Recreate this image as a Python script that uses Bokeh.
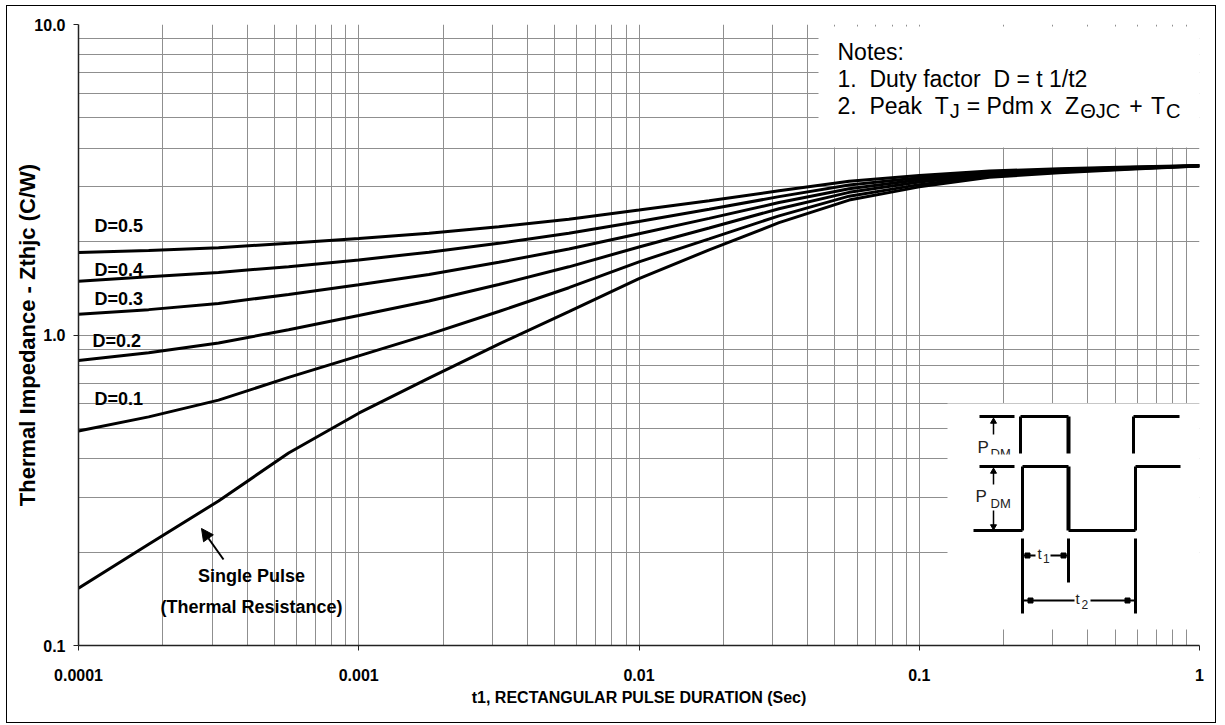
import math
from bokeh.plotting import figure
from bokeh.models import Range1d, FixedTicker, Arrow, NormalHead
from bokeh.core.properties import value
from bokeh.embed import file_html
from bokeh.resources import INLINE

# ---------------- data ----------------
t_sec = [1e-4, 1.78e-4, 3.16e-4, 5.62e-4, 1e-3, 1.78e-3, 3.16e-3, 5.62e-3,
         1e-2, 1.78e-2, 3.16e-2, 5.62e-2, 0.1, 0.178, 0.316, 0.562, 1.0]
z_single = [0.153, 0.212, 0.292, 0.417, 0.56, 0.726, 0.935, 1.19, 1.52, 1.88,
            2.30, 2.72, 3.00, 3.22, 3.33, 3.42, 3.50]
z_d01 = [0.491, 0.545, 0.617, 0.73, 0.857, 1.005, 1.19, 1.42, 1.72, 2.04,
         2.42, 2.80, 3.05, 3.25, 3.35, 3.43, 3.50]
z_d02 = [0.828, 0.876, 0.942, 1.04, 1.155, 1.287, 1.454, 1.658, 1.92, 2.21,
         2.55, 2.88, 3.11, 3.28, 3.37, 3.44, 3.51]
z_d03 = [1.166, 1.207, 1.264, 1.351, 1.451, 1.567, 1.714, 1.892, 2.12, 2.375,
         2.67, 2.96, 3.16, 3.31, 3.39, 3.45, 3.51]
z_d04 = [1.49, 1.54, 1.59, 1.66, 1.745, 1.848, 1.973, 2.126, 2.32, 2.54,
         2.79, 3.04, 3.21, 3.34, 3.41, 3.46, 3.51]
z_d05 = [1.844, 1.871, 1.911, 1.974, 2.045, 2.128, 2.233, 2.36, 2.525, 2.705,
         2.915, 3.125, 3.265, 3.375, 3.43, 3.475, 3.515]
series = [z_d05, z_d04, z_d03, z_d02, z_d01, z_single]
series_labels = ["D=0.5", "D=0.4", "D=0.3", "D=0.2", "D=0.1"]

x_major = [1e-4, 1e-3, 1e-2, 1e-1, 1.0]
x_labels = ["0.0001", "0.001", "0.01", "0.1", "1"]
y_major = [0.1, 1.0, 10.0]
y_labels = ["0.1", "1.0", "10.0"]

x_title = "t1, RECTANGULAR PULSE DURATION (Sec)"
y_title = "Thermal Impedance - Zthjc (C/W)"

# ---------------- layout helpers (pixel -> data for decorations) ---------
FL, FR, FT, FB = 78, 1199, 24, 645
def X(px):
    return 10 ** (-4 + 4 * (px - FL) / (FR - FL))
def Y(py):
    return 10 ** (1 - 2 * (py - FT) / (FB - FT))

ARIAL = "Liberation Sans"
NBSP = "\u00a0"

p = figure(x_axis_type="log", y_axis_type="log",
           x_range=Range1d(1e-4, 1.0), y_range=Range1d(0.1, 10.0),
           frame_width=FR - FL, frame_height=FB - FT,
           min_border_left=71, min_border_right=16, min_border_top=18, min_border_bottom=77,
           output_backend="svg", toolbar_location=None)
p.styles = {"margin": "5px 0px 0px 6px", "border": "1px solid black"}
p.background_fill_color = "white"
p.border_fill_color = "white"
p.outline_line_color = None

x_minor = [m * 10 ** e for e in range(-4, 0) for m in range(2, 10)]
y_minor = [m * 10 ** e for e in range(-1, 1) for m in range(2, 10)]
xt = FixedTicker(ticks=x_major, minor_ticks=x_minor)
yt = FixedTicker(ticks=y_major, minor_ticks=y_minor)
p.xaxis.ticker = xt
p.yaxis.ticker = yt
p.xgrid.ticker = xt
p.ygrid.ticker = yt
p.xaxis.major_label_overrides = {v: s for v, s in zip(x_major, x_labels)}
p.yaxis.major_label_overrides = {v: s for v, s in zip(y_major, y_labels)}

for g in (p.xgrid, p.ygrid):
    g.grid_line_color = "#8f8f8f"
    g.grid_line_width = 1
    g.minor_grid_line_color = "#8f8f8f"
    g.minor_grid_line_width = 1

for ax in (p.xaxis, p.yaxis):
    ax.minor_tick_line_color = None
    ax.major_tick_in = 0
    ax.major_tick_out = 5
    ax.major_tick_line_color = "#222222"
    ax.axis_line_color = "#222222"
    ax.axis_line_width = 1.5
    ax.major_label_text_font = ARIAL
    ax.major_label_text_font_style = "bold"
    ax.major_label_text_font_size = "16px"
    ax.major_label_text_color = "black"
    ax.axis_label_text_font = ARIAL
    ax.axis_label_text_font_style = "bold"
    ax.axis_label_text_color = "black"
p.xaxis.major_label_standoff = 18
p.yaxis.major_label_standoff = 8
p.xaxis.axis_label = x_title
p.xaxis.axis_label_text_font_size = "16px"
p.xaxis.axis_label_standoff = 5
p.yaxis.axis_label = y_title
p.yaxis.axis_label_text_font_size = "22px"
p.yaxis.axis_label_standoff = -9

# ---------------- curves ----------------
for z in series:
    p.line(t_sec, z, line_color="black", line_width=3)

# ---------------- curve labels ----------------
lab_pos = [(94, 225), (94, 269), (94, 298), (92, 340.5), (94, 398)]
p.text(x=[X(a) for a, b in lab_pos], y=[Y(b) for a, b in lab_pos], text=series_labels,
       text_font=value(ARIAL), text_font_style="bold", text_font_size="18px",
       text_align="left", text_baseline="middle", text_color="black")
p.text(x=[X(251), X(251)], y=[Y(575), Y(606)], text=["Single Pulse", "(Thermal Resistance)"],
       text_font=value(ARIAL), text_font_style="bold", text_font_size="18px",
       text_align="center", text_baseline="middle", text_color="black")
p.add_layout(Arrow(end=NormalHead(size=12, fill_color="black", line_color="black"),
                   x_start=X(223), y_start=Y(559), x_end=X(201), y_end=Y(528),
                   line_width=2, line_color="black"))

# ---------------- notes box ----------------
p.quad(left=[X(818)], right=[X(1210)], top=[Y(26)], bottom=[Y(147)],
       fill_color="white", line_color=None)
WID = {' ': .278, NBSP: .278, '.': .278, '1': .556, '2': .556, 'P': .667, 'e': .556, 'a': .556,
       'k': .5, 'T': .611, 'J': .5, '=': .584, 'd': .556, 'm': .833, 'x': .5,
       'Z': .611, 'Θ': .778, 'C': .722, '+': .584}
def tw(s, f):
    return sum(WID.get(c, .556) for c in s) * f
F, FS = 23, 20
p.text(x=[X(837), X(837)], y=[Y(51), Y(78)],
       text=["Notes:", "1." + NBSP + NBSP + "Duty factor" + NBSP + NBSP + "D = t 1/t2"],
       text_font=value(ARIAL), text_font_size=f"{F}px", text_align="left",
       text_baseline="middle", text_color="black")
pieces = [("2." + NBSP + NBSP + "Peak" + NBSP, False), ("T", False), ("J", True),
          (NBSP + "=" + NBSP + "Pdm" + NBSP + "x" + NBSP, False),
          ("Z", False), ("ΘJC", True), (NBSP + "+" + NBSP, False), ("T", False), ("C", True)]
total = sum(tw(s, FS if sub else F) for s, sub in pieces)
stretch = (1181 - 837) / total
cx = 837.0
for s, sub in pieces:
    f = FS if sub else F
    p.text(x=[X(cx)], y=[Y(105 + (5 if sub else 0))], text=[s],
           text_font=value(ARIAL), text_font_size=f"{f}px", text_align="left",
           text_baseline="middle", text_color="black")
    cx += tw(s, f) * stretch

# ---------------- pulse diagram inset ----------------
p.quad(left=[X(947)], right=[X(1210)], top=[Y(403)], bottom=[Y(629)],
       fill_color="white", line_color=None)
def segs(lst, w):
    p.segment(x0=[X(a) for a, b, c, d in lst], y0=[Y(b) for a, b, c, d in lst],
              x1=[X(c) for a, b, c, d in lst], y1=[Y(d) for a, b, c, d in lst],
              line_color="black", line_width=w)
# upper (partly hidden) waveform
segs([(979, 416, 1014, 416), (1020, 453, 1020, 416), (1020, 416, 1068, 416),
      (1133, 453, 1133, 416), (1133, 416, 1179, 416)], 3)
segs([(1068, 416, 1068, 453)], 4)
segs([(993, 421, 993, 434)], 1.5)
p.triangle(x=[X(993)], y=[Y(421)], size=6, fill_color="black", line_color="black")
p.text(x=[X(977), X(990)], y=[Y(446.5), Y(453)], text=["P", "DM"],
       text_font=value(ARIAL), text_font_size=["17px", "13px"], text_align="left",
       text_baseline="middle", text_color="#222222")
p.quad(left=[X(965)], right=[X(1190)], top=[Y(454)], bottom=[Y(463)],
       fill_color="white", line_color=None)
# lower waveform
segs([(979, 466, 1014, 466), (973, 530, 1022, 530), (1022, 530, 1022, 466),
      (1022, 466, 1068, 466), (1068, 530, 1135, 530), (1135, 530, 1135, 466),
      (1135, 466, 1180, 466)], 3)
segs([(1068, 466, 1068, 530)], 4)
segs([(993, 471, 993, 484), (993, 510, 993, 525)], 1.5)
p.triangle(x=[X(993)], y=[Y(471)], size=6, fill_color="black", line_color="black")
p.inverted_triangle(x=[X(993)], y=[Y(526)], size=6, fill_color="black", line_color="black")
p.text(x=[X(975), X(990)], y=[Y(495.5), Y(502.5)], text=["P", "DM"],
       text_font=value(ARIAL), text_font_size=["17px", "13px"], text_align="left",
       text_baseline="middle", text_color="#222222")
# dimension lines
segs([(1022, 538, 1022, 613), (1068, 538, 1068, 582), (1135, 538, 1135, 613)], 3)
segs([(1022, 555, 1035, 555), (1050, 555, 1068, 555),
      (1022, 600, 1074, 600), (1090, 600, 1135, 600)], 2)
p.square(x=[X(1027), X(1063), X(1030), X(1127)], y=[Y(555), Y(555), Y(600), Y(600)],
         size=5, fill_color="black", line_color="black")
p.text(x=[X(1037), X(1042.5), X(1075), X(1081)], y=[Y(553), Y(558), Y(598), Y(603.5)],
       text=["t", "1", "t", "2"], text_font=value(ARIAL),
       text_font_size=["15px", "12px", "15px", "12px"], text_align="left",
       text_baseline="middle", text_color="#222222")

open("out.html", "w").write(file_html(p, INLINE))
